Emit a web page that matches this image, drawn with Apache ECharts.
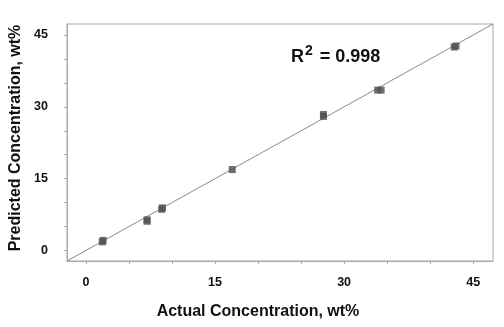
<!DOCTYPE html>
<html>
<head>
<meta charset="utf-8">
<script src="https://cdn.jsdelivr.net/npm/echarts@6/dist/echarts.min.js"></script>
<style>html,body{margin:0;padding:0;background:#fff}#c{width:504px;height:327px}</style>
</head>
<body>
<div id="c"></div>
<script>
// Measured points (actual, predicted), including replicate measurements
var actual    = [1.9, 2.0, 7.1, 7.1, 8.8, 8.9, 17.0, 27.6, 27.6, 33.9, 34.3, 42.8, 43.0];
var predicted = [1.8, 2.1, 6.1, 6.4, 8.6, 8.9, 16.9, 28.0, 28.4, 33.5, 33.5, 42.5, 42.7];
// Fit line end points (y = x)
var fitX = [-2.2, 47.3];
var fitY = [-2.2, 47.3];
var tickValues = [0, 5, 10, 15, 20, 25, 30, 35, 40, 45];
var labelValues = [0, 15, 30, 45];
var axisMin = -2.2, axisMax = 47.3;

var chart = echarts.init(document.getElementById('c'), null, {renderer: 'canvas'});
var font = 'Liberation Sans, Arial, sans-serif';
function axis(isX) {
  return {
    type: 'value', min: axisMin, max: axisMax,
    axisLine: {show: true, onZero: false, lineStyle: {color: '#a8a8a8', width: 1}},
    axisTick: {show: true, length: 3, customValues: tickValues, lineStyle: {color: '#a8a8a8'}},
    axisLabel: {show: true, customValues: labelValues, color: '#111', fontWeight: 'bold', fontSize: 12.5, fontFamily: font, margin: isX ? 15 : 19},
    splitLine: {show: false}
  };
}
var pts = actual.map(function (a, i) { return [a, predicted[i]]; });
var fit = fitX.map(function (a, i) { return [a, fitY[i]]; });
chart.setOption({
  animation: false,
  grid: {left: 67, right: 11, top: 24, bottom: 66, show: true, borderColor: '#a8a8a8', borderWidth: 1},
  xAxis: axis(true),
  yAxis: axis(false),
  series: [
    {type: 'line', data: fit, showSymbol: false, lineStyle: {color: '#8a8a8a', width: 1}, z: 1},
    {type: 'scatter', data: pts, symbol: 'rect', symbolSize: 7, itemStyle: {color: '#555', opacity: 0.85}, z: 2}
  ],
  graphic: [
    {type: 'text', left: 291, top: 44, style: {
      text: '{b|R}{s|2}{b| = 0.998}',
      rich: {
        b: {fontSize: 18, fontWeight: 'bold', fontFamily: font, fill: '#111', verticalAlign: 'bottom'},
        s: {fontSize: 14, fontWeight: 'bold', fontFamily: font, fill: '#111', verticalAlign: 'top', padding: [0, 2, 8, 1]}
      }}},
    {type: 'text', x: 258, y: 312, style: {text: 'Actual Concentration, wt%', fontSize: 16, fontWeight: 'bold', fontFamily: font, fill: '#111', align: 'center', verticalAlign: 'middle'}},
    {type: 'text', x: 16, y: 138, rotation: Math.PI / 2, style: {text: 'Predicted Concentration, wt%', fontSize: 16, fontWeight: 'bold', fontFamily: font, fill: '#111', align: 'center', verticalAlign: 'middle'}}
  ]
});
</script>
</body>
</html>
